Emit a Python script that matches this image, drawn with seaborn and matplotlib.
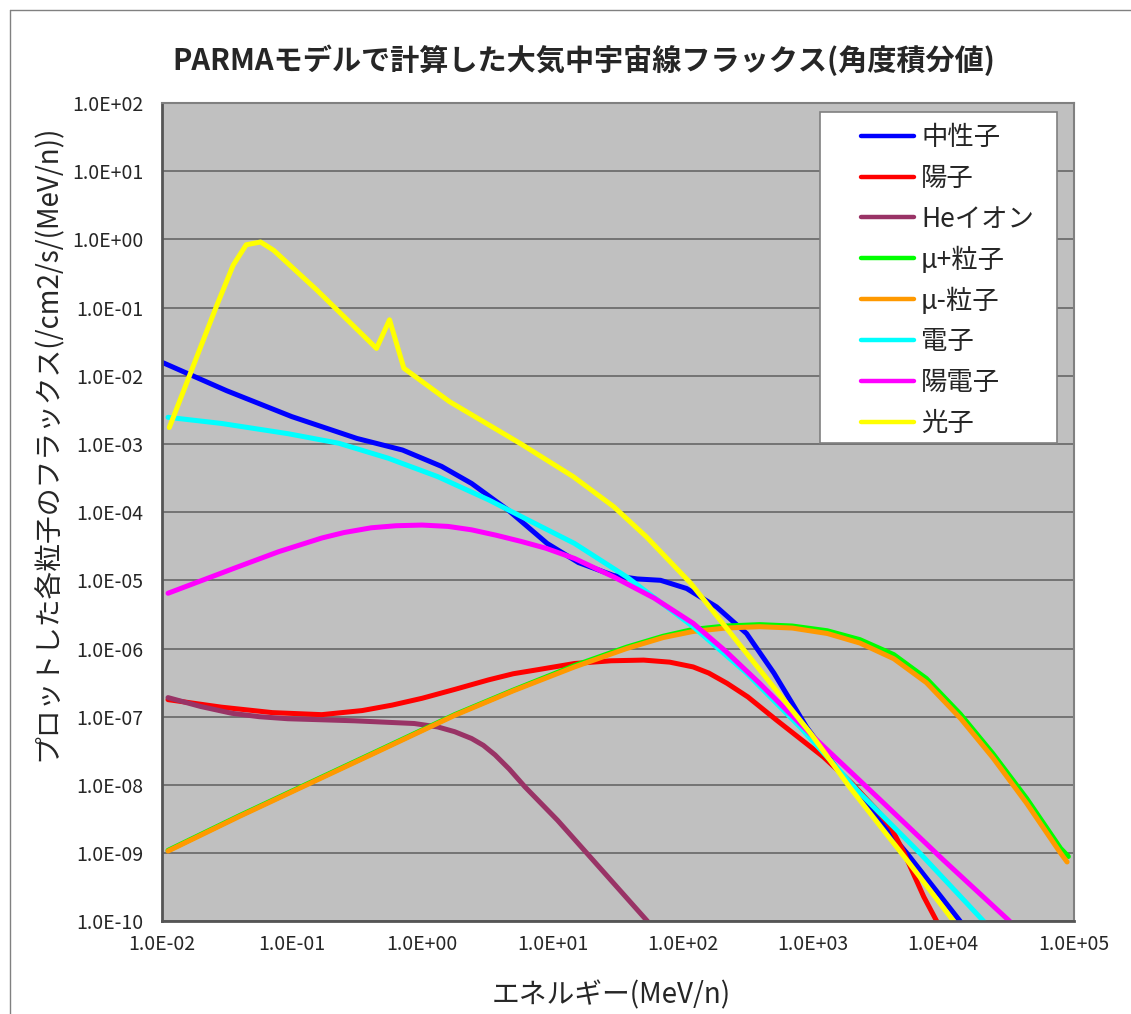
import numpy as np
import matplotlib
matplotlib.use('Agg')
import matplotlib.pyplot as plt
from matplotlib.patches import Rectangle
from matplotlib.lines import Line2D
from matplotlib.ticker import FixedLocator, FuncFormatter, NullLocator
import seaborn as sns

sns.set_style('white')
plt.rcParams['font.family'] = ['Noto Sans CJK JP', 'DejaVu Sans']

# values, as log10(energy MeV/n) and log10(flux)
neutron_logE = [-2.0, -1.5, -1.0, -0.5, -0.15, 0.15, 0.38, 0.66, 0.96, 1.2, 1.47, 1.65,
                1.83, 2.03, 2.26, 2.49, 2.70, 2.95, 3.23, 3.5, 3.72, 4.13]
neutron_logF = [-1.80, -2.22, -2.60, -2.92, -3.09, -3.33, -3.58, -3.97, -4.46, -4.74, -4.93, -4.98,
                -5.00, -5.12, -5.39, -5.78, -6.36, -7.15, -7.88, -8.50, -9.00, -10.0]

proton_logE = [-1.95, -1.54, -1.15, -0.77, -0.46, -0.23, 0.0, 0.25, 0.51, 0.7, 0.89, 1.17,
               1.45, 1.70, 1.9, 2.08, 2.2, 2.34, 2.5, 2.72, 2.9, 3.08, 3.3, 3.49, 3.6,
               3.69, 3.77, 3.85, 3.95]
proton_logF = [-6.75, -6.86, -6.94, -6.97, -6.91, -6.83, -6.73, -6.60, -6.46, -6.37, -6.31, -6.22,
               -6.18, -6.17, -6.20, -6.27, -6.36, -6.51, -6.71, -7.05, -7.32, -7.59, -7.98, -8.37, -8.63,
               -8.96, -9.30, -9.64, -10.0]

he_logE = [-1.95, -1.7, -1.46, -1.25, -1.03, -0.52, -0.06, 0.12, 0.25, 0.38, 0.47, 0.56,
           0.67, 0.79, 1.04, 1.73]
he_logF = [-6.72, -6.85, -6.95, -7.00, -7.03, -7.06, -7.10, -7.15, -7.22, -7.32, -7.42, -7.56,
           -7.77, -8.03, -8.52, -10.0]

mu_plus_logE = [-1.95, -1.4, -0.92, -0.35, 0.25, 0.7, 1.17, 1.57, 1.85, 2.08, 2.33, 2.59,
                2.84, 3.11, 3.36, 3.62, 3.87, 4.13, 4.38, 4.64, 4.90, 4.96]
mu_plus_logF = [-8.96, -8.45, -8.02, -7.51, -6.97, -6.61, -6.25, -5.98, -5.82, -5.72, -5.67, -5.65,
                -5.67, -5.74, -5.87, -6.09, -6.44, -6.96, -7.54, -8.20, -8.93, -9.05]

mu_minus_logE = [-1.95, -1.4, -0.92, -0.35, 0.25, 0.7, 1.17, 1.57, 1.85, 2.08, 2.33, 2.59,
                 2.84, 3.11, 3.36, 3.62, 3.87, 4.13, 4.38, 4.64, 4.90, 4.95]
mu_minus_logF = [-8.97, -8.46, -8.03, -7.52, -6.98, -6.62, -6.27, -6.00, -5.84, -5.75, -5.70, -5.68,
                 -5.70, -5.78, -5.92, -6.15, -6.50, -7.02, -7.60, -8.27, -9.00, -9.13]

electron_logE = [-1.95, -1.54, -1.03, -0.64, -0.26, 0.12, 0.51, 0.89, 1.17, 1.57, 2.08, 2.49,
                 2.90, 3.36, 3.82, 4.31]
electron_logF = [-2.61, -2.70, -2.85, -2.99, -3.21, -3.48, -3.82, -4.19, -4.46, -4.95, -5.68, -6.36,
                 -7.15, -8.12, -9.00, -10.0]

positron_logE = [-1.95, -1.41, -1.1, -0.77, -0.6, -0.39, -0.2, 0.0, 0.2, 0.38, 0.57, 0.76,
                 0.95, 1.17, 1.47, 1.78, 2.08, 2.33, 2.59, 3.0, 3.5, 4.0, 4.51]
positron_logF = [-5.19, -4.80, -4.58, -4.38, -4.30, -4.23, -4.20, -4.19, -4.21, -4.26, -4.34, -4.43,
                 -4.53, -4.68, -4.95, -5.26, -5.63, -6.04, -6.51, -7.29, -8.19, -9.10, -10.0]

photon_logE = [-1.94, -1.58, -1.45, -1.35, -1.24, -1.14, -0.81, -0.35, -0.25, -0.14, 0.21, 0.75,
               1.16, 1.47, 1.72, 2.06, 2.49, 2.98, 3.28, 3.74, 4.08]
photon_logF = [-2.76, -0.99, -0.38, -0.08, -0.04, -0.16, -0.74, -1.60, -1.18, -1.89, -2.38, -2.99,
               -3.48, -3.92, -4.36, -5.04, -6.07, -7.24, -8.03, -9.15, -10.0]

series = [
    ('中性子', neutron_logE, neutron_logF, '#0000FF'),
    ('陽子', proton_logE, proton_logF, '#FF0000'),
    ('Heイオン', he_logE, he_logF, '#993366'),
    ('μ+粒子', mu_plus_logE, mu_plus_logF, '#00FF00'),
    ('μ-粒子', mu_minus_logE, mu_minus_logF, '#FF9900'),
    ('電子', electron_logE, electron_logF, '#00FFFF'),
    ('陽電子', positron_logE, positron_logF, '#FF00FF'),
    ('光子', photon_logE, photon_logF, '#FFFF00'),
]

x_ticks = [1e-2, 1e-1, 1e0, 1e1, 1e2, 1e3, 1e4, 1e5]
y_ticks = [1e-10, 1e-9, 1e-8, 1e-7, 1e-6, 1e-5, 1e-4, 1e-3, 1e-2, 1e-1, 1e0, 1e1, 1e2]

W, H = 1131, 1014
fig = plt.figure(figsize=(W / 100, H / 100), dpi=100)
ax = fig.add_axes([161.5 / W, 92.7 / H, 912.1 / W, 818.4 / H])
ax.set_facecolor('#C0C0C0')
ax.set_xscale('log')
ax.set_yscale('log')

for name, logE, logF, col in series:
    sns.lineplot(x=10 ** np.array(logE), y=10 ** np.array(logF), ax=ax, color=col,
                 lw=3.6, label=name, sort=False, estimator=None)

ax.set_xlim(1e-2, 1e5)
ax.set_ylim(1e-10, 1e2)
ax.xaxis.set_major_locator(FixedLocator(x_ticks))
ax.yaxis.set_major_locator(FixedLocator(y_ticks))
ax.xaxis.set_minor_locator(NullLocator())
ax.yaxis.set_minor_locator(NullLocator())
fmt = FuncFormatter(lambda v, p: '{:.1E}'.format(v))
ax.xaxis.set_major_formatter(fmt)
ax.yaxis.set_major_formatter(fmt)
ax.tick_params(axis='x', direction='in', length=5, width=1, color='#606060',
               labelsize=14, pad=9, top=False)
ax.tick_params(axis='y', length=0, labelsize=14, pad=13)

ax.yaxis.grid(True, color='#6E6E6E', lw=1.3)
ax.xaxis.grid(False)
ax.set_axisbelow(True)
for side in ['left', 'bottom']:
    ax.spines[side].set_color('#555555')
    ax.spines[side].set_linewidth(2)
for side in ['top', 'right']:
    ax.spines[side].set_color('#808080')
    ax.spines[side].set_linewidth(1.5)

# legend box
ax.add_patch(Rectangle((0.722, 0.5844), 0.2598, 0.4045, transform=ax.transAxes,
                       facecolor='white', edgecolor='#808080', lw=1.2, zorder=4))
leg = ax.legend(loc='upper left', bbox_to_anchor=(0.7526, 0.990), frameon=False,
                borderpad=0, fontsize=19, handlelength=2.0, handletextpad=0.27,
                labelspacing=0.52)
leg.set_zorder(5)
for ln in leg.get_lines():
    ln.set_linewidth(3.2)

ax.set_xlabel('エネルギー(MeV/n)', fontsize=20, va='center')
ax.xaxis.set_label_coords(0.493, -0.090)
ax.set_ylabel('プロットした各粒子のフラックス(/cm2/s/(MeV/n))', fontsize=20, va='center')
ax.yaxis.set_label_coords(-0.1244, 0.5844)

fig.text(584 / W, 1 - 60 / H, 'PARMAモデルで計算した大気中宇宙線フラックス(角度積分値)',
         ha='center', va='center', fontsize=21, fontweight='bold')

# outer chart border
fig.add_artist(Line2D([10 / W, 10 / W], [0, 1 - 10 / H], transform=fig.transFigure,
                      color='#808080', lw=1))
fig.add_artist(Line2D([10 / W, 1], [1 - 10 / H, 1 - 10 / H], transform=fig.transFigure,
                      color='#808080', lw=1))

fig.savefig('out.png', dpi=100)
